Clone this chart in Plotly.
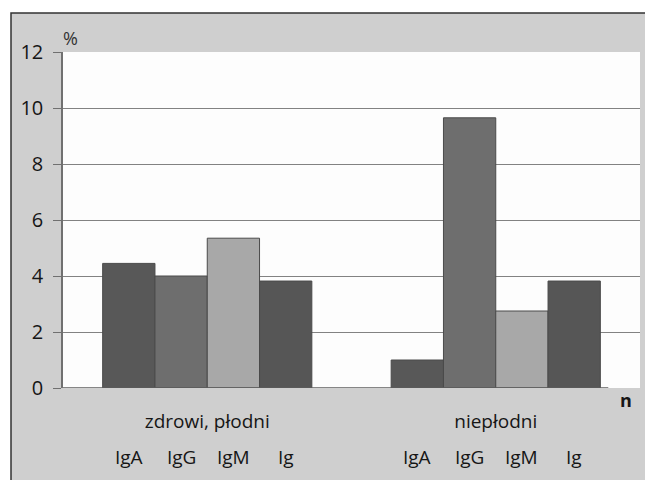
import plotly.graph_objects as go

# Data
groups = ["zdrowi, płodni", "niepłodni"]
series = ["IgA", "IgG", "IgM", "Ig"]
values = {
    "IgA": [4.45, 1.0],
    "IgG": [4.0, 9.65],
    "IgM": [5.35, 2.75],
    "Ig": [3.82, 3.82],
}
colors = {"IgA": "#585858", "IgG": "#6e6e6e", "IgM": "#a8a8a8", "Ig": "#565656"}
y_ticks = [0, 2, 4, 6, 8, 10, 12]

W, H = 645, 480
ML, MR, MT, MB = 63, 5, 52, 92
BARGAP = 0.275
FONT = "Open Sans"
TXT = "#161616"

fig = go.Figure()
for name in series:
    fig.add_trace(go.Bar(
        name=name, x=[0, 1], y=values[name],
        marker=dict(color=colors[name], line=dict(color="#4a4a4a", width=1)),
    ))

pw, ph = W - ML - MR, H - MT - MB
def px_x(p):  # pixel -> paper x
    return (p - ML) / pw
def px_y(p):  # pixel -> paper y
    return (H - MB - p) / ph

shapes = [
    # grey panel with dark frame
    dict(type="rect", xref="paper", yref="paper", layer="below",
         x0=px_x(11), x1=px_x(W + 10), y0=px_y(H + 10), y1=px_y(13),
         fillcolor="#cfcfcf", line=dict(color="#333333", width=1.5)),
    # white plotting area
    dict(type="rect", xref="paper", yref="paper", layer="below",
         x0=0, x1=1, y0=0, y1=1, fillcolor="#fdfdfd", line=dict(width=0)),
    # baseline of the bars
    dict(type="line", xref="x", yref="y", x0=-0.5, x1=1.39, y0=0, y1=0,
         line=dict(color="#5e5e5e", width=1.5)),
]

n = len(series)
bw = (1 - BARGAP) / n
annotations = [
    dict(text="%", xref="paper", yref="paper", x=px_x(70), y=px_y(38),
         xanchor="center", yanchor="middle", showarrow=False,
         font=dict(family=FONT, size=18, color="#333333")),
    dict(text="<b>n</b>", xref="paper", yref="paper", x=px_x(626), y=px_y(400),
         xanchor="center", yanchor="middle", showarrow=False,
         font=dict(family=FONT, size=18, color=TXT)),
]
for g in range(len(groups)):
    for i, name in enumerate(series):
        annotations.append(dict(
            text=name, xref="x", yref="paper", x=g + (i - (n - 1) / 2) * bw,
            y=px_y(457), xanchor="center", yanchor="middle", showarrow=False,
            font=dict(family=FONT, size=19, color=TXT)))

fig.update_layout(
    width=W, height=H,
    margin=dict(l=ML, r=MR, t=MT, b=MB),
    paper_bgcolor="white", plot_bgcolor="rgba(0,0,0,0)",
    barmode="group", bargap=BARGAP, bargroupgap=0,
    showlegend=False,
    shapes=shapes, annotations=annotations,
    xaxis=dict(range=[-0.5, 1.5], tickmode="array", tickvals=[0, 1],
               ticktext=groups, ticks="", showline=False, showgrid=False,
               zeroline=False, ticklabelstandoff=20,
               tickfont=dict(family=FONT, size=19, color=TXT)),
    yaxis=dict(range=[0, 12], tickvals=y_ticks, ticks="outside", ticklen=8,
               tickcolor="#707070", showline=True, linecolor="#707070",
               linewidth=1.5, showgrid=True, gridcolor="#828282", gridwidth=1.2,
               zeroline=False, ticklabelstandoff=6,
               tickfont=dict(family=FONT, size=20, color=TXT)),
)

fig.write_html("out.html")
